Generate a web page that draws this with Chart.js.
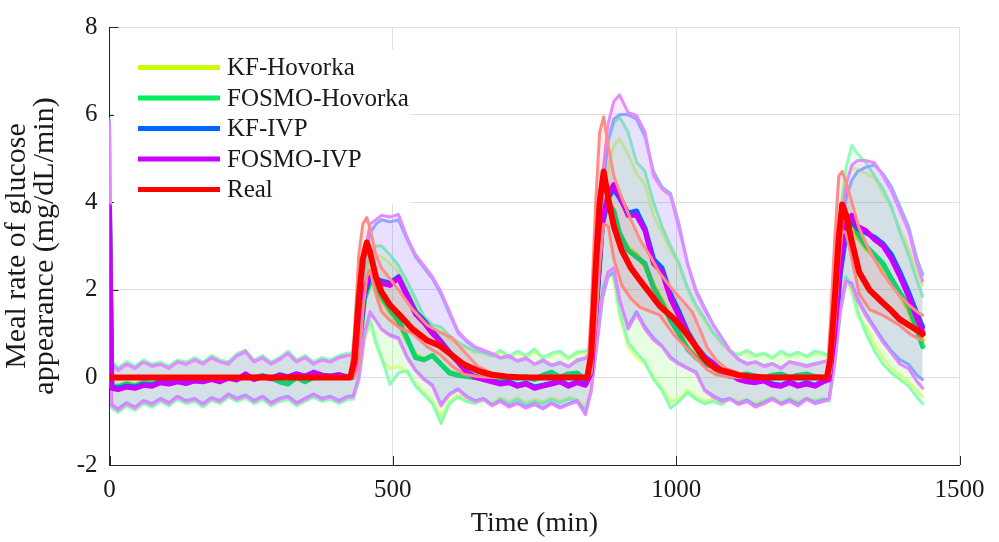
<!DOCTYPE html>
<html><head><meta charset="utf-8">
<script src="https://cdn.jsdelivr.net/npm/chart.js@4.4.1/dist/chart.umd.min.js"></script>
<style>html,body{margin:0;padding:0;background:#fff;}#wrap{width:999px;height:542px;}</style>
</head><body><div id="wrap"><canvas id="c" width="999" height="542"></canvas></div>
<script>
// ---- time grid shared by the four estimators (min) ----
const time = [0,4,15,30,45,60,75,90,105,120,135,150,165,180,195,210,225,240,255,270,285,300,315,330,345,360,375,390,405,420,
430,440,450,460,470,480,
495,510,525,540,555,570,585,600,615,630,645,660,675,690,705,720,735,750,765,780,795,810,825,840,
850,860,870,880,890,900,
915,930,945,960,975,990,1005,1020,1035,1050,1065,1080,1095,1110,1125,1140,1155,1170,1185,1200,1215,1230,1245,1260,
1270,1280,1290,1300,1310,1320,
1335,1350,1365,1380,1395,1410,1425,1435];

// ---- KF-Hovorka ----
const kfHovMean = [3.5,-0.18,-0.2,-0.14,-0.18,-0.11,-0.14,-0.09,-0.11,-0.07,-0.09,-0.04,-0.07,-0.02,-0.05,0.0,-0.02,0.02,0.0,0.04,-0.02,-0.08,-0.12,0.0,-0.08,0.0,0.03,0.0,0.04,0.0,
0.0,0.6,1.8,2.15,2.1,1.8,
1.5,1.25,0.85,0.5,0.42,0.5,0.3,0.12,0.06,0.03,0.0,0.0,0.02,-0.03,0.02,0.0,0.03,-0.03,0.05,0.1,0.02,0.06,0.08,-0.03,
0.1,1.8,3.5,4.0,3.75,3.25,
2.95,2.8,2.55,2.1,1.75,1.35,1.02,0.68,0.48,0.32,0.24,0.1,0.03,0.04,0.06,0.02,0.0,0.04,0.06,0.0,0.04,0.06,0.02,0.0,
0.0,1.0,2.6,3.45,3.6,3.2,
2.95,2.75,2.5,2.2,1.9,1.55,1.05,0.85];
const kfHovUpper = [5.7,0.36,0.2,0.34,0.24,0.38,0.28,0.33,0.24,0.38,0.33,0.43,0.33,0.48,0.38,0.34,0.52,0.6,0.38,0.48,0.33,0.43,0.58,0.38,0.48,0.34,0.43,0.38,0.48,0.53,
0.52,1.2,2.2,2.7,2.8,2.75,
2.6,2.4,2.05,1.65,1.3,1.12,1.05,0.88,0.75,0.66,0.56,0.55,0.47,0.58,0.45,0.56,0.47,0.6,0.42,0.52,0.56,0.42,0.54,0.56,
0.6,2.2,3.9,4.8,5.3,5.45,
5.1,4.65,4.4,3.7,3.3,2.9,2.55,2.0,1.6,1.3,1.0,0.78,0.58,0.5,0.58,0.48,0.52,0.43,0.56,0.48,0.55,0.46,0.56,0.52,
0.45,1.8,3.5,4.5,4.8,4.75,
4.65,4.55,4.2,3.85,3.4,2.95,2.4,2.1];
const kfHovLower = [1.5,-0.68,-0.78,-0.63,-0.73,-0.58,-0.66,-0.53,-0.63,-0.48,-0.58,-0.53,-0.66,-0.51,-0.58,-0.43,-0.53,-0.45,-0.58,-0.48,-0.63,-0.53,-0.48,-0.63,-0.53,-0.43,-0.53,-0.48,-0.58,-0.48,
-0.48,-0.05,0.85,1.2,0.75,0.4,
0.2,0.25,0.1,-0.15,-0.35,-0.55,-0.9,-0.55,-0.4,-0.5,-0.55,-0.48,-0.6,-0.46,-0.55,-0.46,-0.58,-0.5,-0.56,-0.46,-0.54,-0.46,-0.5,-0.7,
-0.3,0.9,2.0,2.4,2.2,1.4,
0.7,0.45,0.29,0.0,-0.25,-0.55,-0.5,-0.3,-0.45,-0.55,-0.5,-0.58,-0.48,-0.56,-0.5,-0.6,-0.52,-0.45,-0.56,-0.48,-0.56,-0.48,-0.52,-0.48,
-0.5,0.5,1.6,2.2,1.9,1.4,
1.15,0.75,0.45,0.2,0.05,-0.1,-0.3,-0.45];

// ---- FOSMO-Hovorka ----
const foHovMean = [3.5,-0.2,-0.22,-0.15,-0.2,-0.12,-0.15,-0.1,-0.12,-0.08,-0.1,-0.05,-0.08,-0.02,-0.06,0.0,-0.03,0.02,0.0,0.04,-0.02,-0.1,-0.15,0.0,-0.1,0.0,0.03,0.0,0.04,0.0,
0.0,0.6,1.8,2.2,2.15,1.85,
1.55,1.3,0.9,0.45,0.4,0.5,0.3,0.1,0.05,0.02,0.0,-0.02,0.0,-0.05,0.0,-0.02,0.02,-0.05,0.05,0.12,0.0,0.08,0.1,-0.05,
0.1,1.8,3.6,4.0,3.8,3.3,
2.9,2.75,2.6,2.05,1.7,1.3,1.0,0.65,0.45,0.3,0.25,0.08,0.02,0.05,0.08,0.03,0.0,0.05,0.08,0.0,0.05,0.08,0.02,0.0,
0.0,1.1,2.7,3.55,3.7,3.3,
3.0,2.8,2.6,2.25,1.93,1.64,1.1,0.7];
const foHovUpper = [5.9,0.38,0.22,0.36,0.26,0.4,0.3,0.35,0.26,0.4,0.35,0.45,0.35,0.5,0.4,0.36,0.54,0.62,0.4,0.5,0.35,0.45,0.6,0.4,0.5,0.36,0.45,0.4,0.5,0.55,
0.55,1.3,2.4,2.9,3.0,3.0,
2.8,2.55,2.2,1.8,1.4,1.2,1.15,0.95,0.8,0.7,0.6,0.58,0.5,0.62,0.48,0.6,0.5,0.65,0.45,0.55,0.6,0.45,0.58,0.6,
0.7,2.5,4.4,5.4,5.8,5.95,
5.6,4.92,4.7,4.0,3.45,3.0,2.6,2.05,1.65,1.35,1.03,0.8,0.6,0.52,0.62,0.5,0.55,0.45,0.6,0.5,0.58,0.48,0.6,0.55,
0.5,2.0,3.8,4.8,5.3,5.1,
4.9,4.6,4.3,3.9,3.3,2.8,2.2,1.85];
const foHovLower = [1.5,-0.7,-0.8,-0.65,-0.75,-0.6,-0.68,-0.55,-0.65,-0.5,-0.6,-0.55,-0.68,-0.53,-0.6,-0.45,-0.55,-0.47,-0.6,-0.5,-0.65,-0.55,-0.5,-0.65,-0.55,-0.45,-0.55,-0.5,-0.6,-0.5,
-0.5,-0.1,0.9,1.3,0.8,0.45,
-0.16,0.1,0.15,-0.2,-0.4,-0.6,-1.05,-0.6,-0.45,-0.55,-0.6,-0.52,-0.65,-0.5,-0.6,-0.5,-0.62,-0.55,-0.6,-0.5,-0.58,-0.5,-0.55,-0.75,
-0.35,0.9,2.0,2.4,2.3,1.5,
0.8,0.55,0.35,-0.05,-0.3,-0.7,-0.55,-0.35,-0.5,-0.6,-0.55,-0.62,-0.5,-0.6,-0.52,-0.65,-0.55,-0.48,-0.6,-0.5,-0.6,-0.5,-0.55,-0.5,
-0.55,0.5,1.7,2.3,2.0,1.5,
1.0,0.6,0.3,0.1,-0.05,-0.2,-0.45,-0.6];

// ---- KF-IVP ----
const kfIvpMean = [3.9,-0.22,-0.25,-0.2,-0.22,-0.16,-0.18,-0.1,-0.13,-0.09,-0.12,-0.06,-0.08,-0.04,-0.08,0.0,-0.04,0.06,-0.03,0.03,-0.02,0.06,0.01,0.08,0.03,0.1,0.05,0.03,0.06,0.01,
0.05,0.7,1.9,2.3,2.25,2.2,
2.15,2.3,1.9,1.5,1.3,1.05,0.82,0.58,0.36,0.14,0.02,-0.03,-0.08,-0.13,-0.1,-0.18,-0.13,-0.22,-0.18,-0.13,-0.08,-0.18,-0.1,-0.15,
0.1,1.7,3.5,4.1,4.3,4.1,
3.75,3.8,3.4,2.7,2.5,1.9,1.5,1.05,0.72,0.48,0.33,0.16,0.09,-0.03,-0.08,-0.1,-0.06,-0.15,-0.18,-0.1,-0.18,-0.12,-0.18,-0.08,
-0.05,0.9,2.4,3.3,3.55,3.4,
3.3,3.2,3.05,2.8,2.4,1.95,1.45,1.15];
const kfIvpUpper = [5.8,0.32,0.18,0.3,0.22,0.35,0.27,0.3,0.22,0.36,0.3,0.4,0.32,0.45,0.36,0.32,0.5,0.58,0.36,0.45,0.32,0.42,0.55,0.36,0.46,0.32,0.4,0.36,0.46,0.5,
0.5,1.4,2.7,3.3,3.5,3.6,
3.55,3.6,3.15,2.75,2.5,2.25,1.9,1.45,1.02,0.82,0.68,0.6,0.53,0.44,0.48,0.37,0.43,0.3,0.38,0.27,0.33,0.24,0.38,0.43,
0.55,2.4,4.3,5.4,5.9,6.0,
6.0,5.9,5.5,4.7,4.35,4.2,3.5,2.6,2.0,1.6,1.22,0.92,0.62,0.42,0.32,0.36,0.27,0.32,0.22,0.36,0.32,0.27,0.32,0.36,
0.4,1.6,3.1,4.1,4.5,4.7,
4.8,4.85,4.65,4.35,3.9,3.45,2.7,2.35];
const kfIvpLower = [1.95,-0.62,-0.72,-0.58,-0.68,-0.53,-0.6,-0.48,-0.58,-0.43,-0.53,-0.48,-0.6,-0.46,-0.53,-0.38,-0.48,-0.4,-0.53,-0.43,-0.58,-0.48,-0.43,-0.58,-0.48,-0.38,-0.48,-0.43,-0.53,-0.43,
-0.43,0.0,1.0,1.45,1.3,1.1,
0.97,0.9,0.47,0.17,-0.03,-0.18,-0.62,-0.38,-0.26,-0.43,-0.53,-0.48,-0.63,-0.53,-0.66,-0.58,-0.68,-0.6,-0.7,-0.58,-0.68,-0.6,-0.53,-0.82,
-0.3,0.7,1.8,2.3,2.4,1.75,
1.15,1.5,1.15,0.9,0.72,0.46,0.32,0.22,0.12,-0.28,-0.42,-0.52,-0.48,-0.6,-0.52,-0.65,-0.58,-0.48,-0.6,-0.52,-0.62,-0.48,-0.58,-0.52,
-0.5,0.3,1.5,2.2,2.15,1.8,
1.45,1.15,0.85,0.6,0.4,0.3,0.05,-0.05];

// ---- FOSMO-IVP ----
const foIvpMean = [3.9,-0.25,-0.28,-0.22,-0.25,-0.18,-0.2,-0.12,-0.15,-0.1,-0.14,-0.08,-0.1,-0.05,-0.1,-0.02,-0.06,0.08,-0.05,0.02,-0.03,0.05,0.0,0.08,0.02,0.12,0.05,0.02,0.06,0.0,
0.05,0.8,2.0,2.4,2.2,2.15,
2.1,2.27,1.85,1.45,1.25,1.0,0.8,0.55,0.35,0.12,0.0,-0.05,-0.1,-0.15,-0.12,-0.2,-0.15,-0.25,-0.2,-0.15,-0.1,-0.2,-0.12,-0.18,
0.1,1.8,3.6,4.2,4.4,4.15,
3.7,3.7,3.35,2.6,2.4,1.8,1.4,1.0,0.7,0.45,0.32,0.15,0.08,-0.05,-0.1,-0.12,-0.08,-0.18,-0.2,-0.12,-0.2,-0.15,-0.2,-0.1,
-0.05,1.0,2.6,3.5,3.7,3.45,
3.35,3.15,3.0,2.7,2.3,1.85,1.35,1.05];
const foIvpUpper = [5.85,0.3,0.15,0.3,0.2,0.35,0.25,0.3,0.2,0.35,0.3,0.4,0.3,0.45,0.35,0.3,0.5,0.6,0.35,0.45,0.3,0.4,0.55,0.35,0.45,0.3,0.4,0.35,0.45,0.5,
0.5,1.5,2.8,3.5,3.6,3.7,
3.66,3.72,3.2,2.8,2.55,2.3,1.95,1.5,1.05,0.85,0.7,0.62,0.55,0.45,0.5,0.38,0.45,0.3,0.4,0.28,0.35,0.25,0.4,0.45,
0.6,2.6,4.6,5.8,6.3,6.45,
6.05,5.98,5.6,4.6,4.3,4.15,3.4,2.6,1.95,1.55,1.2,0.9,0.6,0.4,0.3,0.35,0.25,0.3,0.2,0.35,0.3,0.25,0.3,0.35,
0.4,1.8,3.4,4.4,4.85,4.95,
4.95,4.9,4.6,4.25,3.8,3.35,2.6,2.2];
const foIvpLower = [1.95,-0.65,-0.75,-0.6,-0.7,-0.55,-0.62,-0.5,-0.6,-0.45,-0.55,-0.5,-0.62,-0.48,-0.55,-0.4,-0.5,-0.42,-0.55,-0.45,-0.6,-0.5,-0.45,-0.6,-0.5,-0.4,-0.5,-0.45,-0.55,-0.45,
-0.45,0.0,1.0,1.5,1.3,1.1,
0.95,0.88,0.45,0.15,-0.05,-0.2,-0.65,-0.4,-0.28,-0.45,-0.55,-0.5,-0.65,-0.55,-0.68,-0.6,-0.7,-0.62,-0.72,-0.6,-0.7,-0.62,-0.55,-0.85,
-0.3,0.8,1.9,2.4,2.5,1.8,
1.1,1.45,1.1,0.85,0.7,0.43,0.3,0.2,0.1,-0.3,-0.45,-0.55,-0.5,-0.62,-0.55,-0.68,-0.6,-0.5,-0.62,-0.55,-0.65,-0.5,-0.6,-0.55,
-0.5,0.4,1.6,2.2,2.1,1.75,
1.4,1.1,0.8,0.55,0.3,0.2,-0.1,-0.25];

// ---- Real ----
const realTime = [0,425,432,440,447,454,460,470,480,495,510,535,560,583,605,625,650,675,700,730,770,843,850,858,865,872,880,890,904,920,
936,955,971,997,1015,1029,1045,1054,1070,1089,1110,1130,1160,1266,1272,1280,1287,1293,1300,1310,1323,1341,1364,1380,1394,1411,1425,1435];
const realMean = [0,0,0.4,1.8,2.7,3.08,2.85,2.3,1.95,1.65,1.45,1.1,0.85,0.72,0.5,0.3,0.15,0.06,0.02,0,0,0,0.5,2.5,4.0,4.7,4.1,3.45,2.9,2.5,
2.22,1.9,1.63,1.33,1.05,0.81,0.5,0.36,0.2,0.13,0.05,0.02,0,0,0.4,1.8,3.2,3.95,3.7,3.1,2.4,2.0,1.71,1.52,1.33,1.19,1.08,0.99];
const realUpper = [0,0,1.0,2.8,3.5,3.65,3.4,2.8,2.5,2.25,2.0,1.55,1.2,1.03,0.9,0.6,0.25,0.1,0.04,0,0,0,1.5,4.0,5.6,5.95,5.3,4.6,4.1,3.6,
3.15,2.75,2.38,1.95,1.7,1.48,1.0,0.7,0.4,0.2,0.1,0.03,0,0,1.2,3.2,4.6,4.7,4.45,4.0,3.4,2.9,2.38,2.1,1.86,1.65,1.5,1.42];
const realLower = [0,0,0,0.3,1.5,2.3,2.45,1.9,1.5,1.3,1.15,1.0,0.7,0.52,0.25,0.07,0.02,0,0,0,0,0,0.1,1.2,2.6,3.5,3.45,2.7,2.1,1.8,
1.6,1.5,1.42,0.95,0.72,0.52,0.3,0.18,0.06,0.02,0,0,0,0,0.1,1.2,2.6,3.35,3.3,2.7,1.9,1.55,1.42,1.3,1.19,1.0,0.9,0.85];

// ---- axis ticks ----
const xTicks = [0,500,1000,1500];
const yTicks = [-2,0,2,4,6,8];

const FONT = 'Liberation Serif';
const series = [
  {label:'KF-Hovorka',    rgb:[204,255,0],  color:'rgb(204,255,0)', pale:'rgb(230,255,140)', t:time, mean:kfHovMean, upper:kfHovUpper, lower:kfHovLower, w:5},
  {label:'FOSMO-Hovorka', rgb:[0,255,100],  color:'rgb(0,238,95)',  pale:'rgb(140,255,180)', t:time, mean:foHovMean, upper:foHovUpper, lower:foHovLower, w:5},
  {label:'KF-IVP',        rgb:[0,102,255],  color:'rgb(0,102,255)', pale:'rgb(140,180,255)', t:time, mean:kfIvpMean, upper:kfIvpUpper, lower:kfIvpLower, w:5},
  {label:'FOSMO-IVP',     rgb:[204,0,255],  color:'rgb(204,0,255)', pale:'rgb(228,140,255)', t:time, mean:foIvpMean, upper:foIvpUpper, lower:foIvpLower, w:5},
  {label:'Real',          rgb:[255,0,0],    color:'rgb(255,0,0)',   pale:'rgb(255,140,135)', t:realTime, mean:realMean, upper:realUpper, lower:realLower, w:6}
];

const datasets = [];
series.forEach(s => {
  const pts = arr => s.t.map((t, i) => ({x: t, y: arr[i]}));
  const c = s.rgb.join(',');
  datasets.push({label: s.label + ' lower', data: pts(s.lower), borderColor: s.pale, borderWidth: 3, fill: false});
  datasets.push({label: s.label + ' upper', data: pts(s.upper), borderColor: s.pale, borderWidth: 3, fill: '-1', backgroundColor: `rgba(${c},0.08)`});
  datasets.push({label: s.label, data: pts(s.mean), borderColor: s.color, borderWidth: s.w, fill: false});
});
datasets.forEach((d, i) => { d.order = datasets.length - i; d.pointRadius = 0; d.tension = 0; });

const inTicks = {
  id: 'inTicks',
  beforeDatasetsDraw(chart) {
    const {ctx, chartArea: a, scales: {x, y}} = chart;
    ctx.save();
    ctx.strokeStyle = '#262626'; ctx.lineWidth = 1;
    ctx.beginPath();
    y.ticks.forEach(t => { const p = Math.round(y.getPixelForValue(t.value)) + 0.5; ctx.moveTo(a.left, p); ctx.lineTo(a.left + 9, p); });
    x.ticks.forEach(t => { const p = Math.round(x.getPixelForValue(t.value)) + 0.5; ctx.moveTo(p, a.bottom); ctx.lineTo(p, a.bottom - 9); });
    ctx.stroke();
    ctx.restore();
  }
};

const boxLegend = {
  id: 'boxLegend',
  afterDatasetsDraw(chart) {
    const {ctx, chartArea: a} = chart;
    const bx = a.left + 4.5, by = a.top + 22.5;
    ctx.save();
    ctx.fillStyle = '#ffffff';
    ctx.fillRect(bx, by, 296, 155);
    ctx.font = `25px "${FONT}"`;
    ctx.textBaseline = 'middle';
    series.forEach((s, i) => {
      const yy = by + 18 + i * 30.5;
      ctx.strokeStyle = s.color; ctx.lineWidth = 5; ctx.lineCap = 'butt';
      ctx.beginPath(); ctx.moveTo(bx + 24, yy); ctx.lineTo(bx + 106, yy); ctx.stroke();
      ctx.fillStyle = '#1a1a1a';
      ctx.fillText(s.label, bx + 113, yy + 1);
    });
    ctx.restore();
  }
};

new Chart(document.getElementById('c'), {
  type: 'line',
  data: {datasets},
  options: {
    responsive: false,
    animation: false,
    events: [],
    layout: {padding: {left: 0, right: 39.5, top: 17.5, bottom: 0}},
    plugins: {legend: {display: false}, tooltip: {enabled: false}, filler: {drawTime: 'beforeDatasetDraw'}},
    elements: {point: {radius: 0}, line: {tension: 0, borderJoinStyle: 'round', borderCapStyle: 'round'}},
    scales: {
      x: {
        type: 'linear', min: 0, max: 1500,
        afterBuildTicks: s => { s.ticks = xTicks.map(v => ({value: v})); },
        ticks: {font: {family: FONT, size: 25}, color: '#1a1a1a', padding: 10, maxRotation: 0, callback: v => String(v)},
        grid: {color: '#e0e0e0', drawTicks: false},
        border: {color: '#262626', width: 1},
        title: {display: true, text: 'Time (min)', color: '#1a1a1a', font: {family: FONT, size: 28, lineHeight: '28px'}, padding: {top: 0, bottom: 4}},
        afterFit: s => { s.height = 77; }
      },
      y: {
        type: 'linear', min: -2, max: 8,
        afterBuildTicks: s => { s.ticks = yTicks.map(v => ({value: v})); },
        ticks: {font: {family: FONT, size: 25}, color: '#1a1a1a', padding: 12, callback: v => String(v)},
        grid: {color: '#e0e0e0', drawTicks: false},
        border: {color: '#262626', width: 1},
        title: {display: true, text: ['Meal rate of glucose', 'appearance (mg/dL/min)'], color: '#1a1a1a', font: {family: FONT, size: 30, lineHeight: '28px'}, padding: {top: 3, bottom: 0}},
        afterFit: s => { s.width = 109.5; }
      }
    }
  },
  plugins: [inTicks, boxLegend]
});
</script>
</body></html>
